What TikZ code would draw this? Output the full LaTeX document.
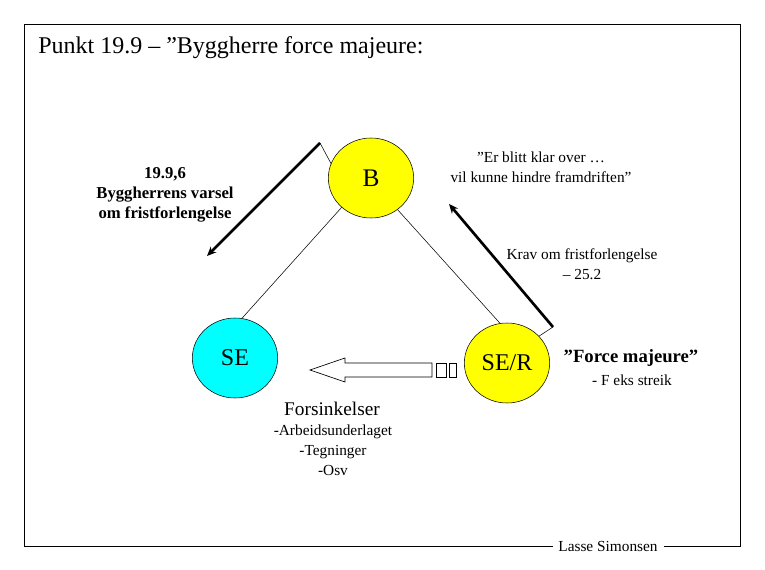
\documentclass[tikz,border=0pt]{standalone}
\usepackage{fontspec}
\setmainfont{Liberation Serif}
\usetikzlibrary{shapes.geometric,arrows.meta}
\definecolor{aqua}{RGB}{0,255,255}
\definecolor{yel}{RGB}{255,255,0}
\begin{document}
\begin{tikzpicture}[x=0.75pt,y=-0.75pt,
  circ/.style={ellipse,draw,minimum width=64pt,minimum height=60pt,inner sep=0pt},
  thin/.style={draw,line width=0.4pt},
  thick2/.style={draw,line width=2pt,-{Stealth[length=7pt,width=6pt]}},
  txt/.style={inner sep=0pt,align=center}]
\useasboundingbox (0,0) rectangle (765,570);
\draw[line width=0.5pt] (553,546) -- (24,546) -- (24,24) -- (740,24) -- (740,546) -- (664,546);
\node[txt,anchor=west] (title) at (38,48) {\fontsize{18}{21}\selectfont Punkt 19.9 – ”Byggherre force majeure:};
\node[circ,fill=yel] (B) at (371,178) {\fontsize{19}{21}\selectfont B};
\node[circ,fill=aqua] (SE) at (235,358) {\fontsize{18}{21}\selectfont SE};
\node[circ,fill=yel] (SER) at (507,363) {\fontsize{18}{21}\selectfont SE/R};
\draw[thin] (B.225) -- (SE.80);
\draw[thin] (B.310) -- (SER.100);
\coordinate (a1) at (320,143);
\coordinate (a2) at (207,256);
\coordinate (b1) at (553,327);
\coordinate (b2) at (449,204);
\draw[thin] (a1) -- (B.160);
\draw[thin] (b1) -- (SER.40);
\draw[thick2] (a1) -- (a2);
\draw[thick2] (b1) -- (b2);
\draw[line width=0.5pt] (432,363) -- (345,363) -- (345,358) -- (310,370) -- (345,382) -- (345,377) -- (432,377) -- cycle;
\draw[line width=0.5pt] (436,363) rectangle (446,377);
\draw[line width=0.5pt] (449,363) rectangle (456,377);
\node[txt,font=\bfseries\fontsize{12.5}{15}\selectfont] (t1) at (165,195) {19.9,6\\Byggherrens varsel\\om fristforlengelse};
\node[txt,font=\fontsize{11.5}{15}\selectfont] (t2) at (541,167) {”Er blitt klar over …\\vil kunne hindre framdriften”};
\node[txt,font=\fontsize{11.5}{15}\selectfont] (t3) at (582,264) {Krav om fristforlengelse\\– 25.2};
\node[txt,font=\bfseries\fontsize{14}{16}\selectfont] (t4) at (631,358) {”Force majeure”};
\node[txt,font=\fontsize{11.5}{13}\selectfont] (t5) at (632,380) {- F eks streik};
\node[txt,font=\fontsize{14.5}{16}\selectfont] (t6) at (332,409) {Forsinkelser};
\node[txt,font=\fontsize{11.5}{15}\selectfont] (t7) at (333,450) {-Arbeidsunderlaget\\-Tegninger\\-Osv};
\node[txt,font=\fontsize{11.5}{13}\selectfont] (t8) at (608,546) {Lasse Simonsen};
\end{tikzpicture}
\end{document}
